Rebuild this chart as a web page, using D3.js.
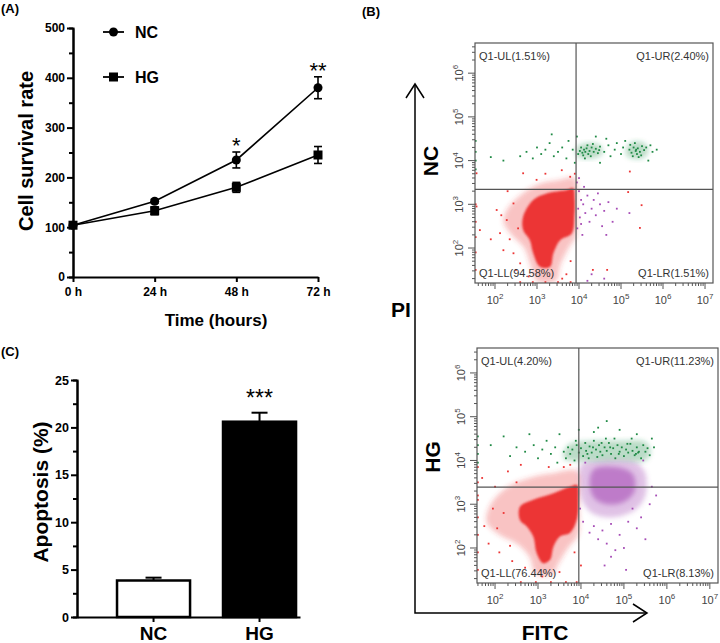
<!DOCTYPE html>
<html>
<head>
<meta charset="utf-8">
<script src="https://cdn.jsdelivr.net/npm/d3@7"></script>
<style>
  body { margin: 0; background: #fff; }
  svg { display: block; font-family: "Liberation Sans", Arial, sans-serif; }
</style>
</head>
<body>
<svg id="fig" width="720" height="643"></svg>
<script>
// ---------- data ----------
// (A) cell survival
const timeLabels = ["0 h", "24 h", "48 h", "72 h"];
const ncSurvival = [104, 152, 235, 380];
const ncSurvivalErr = [3, 4, 16, 22];
const hgSurvival = [104, 133, 180, 245];
const hgSurvivalErr = [3, 8, 10, 17];
const survivalStars = ["", "", "*", "**"];
const survivalTicks = [0, 100, 200, 300, 400, 500];
const survivalMinor = [50, 150, 250, 350, 450];

// (C) apoptosis
const groups = ["NC", "HG"];
const apoptosis = [3.85, 20.6];
const apoptosisErr = [0.3, 0.95];
const apoptosisStars = ["", "***"];
const apoptosisTicks = [0, 5, 10, 15, 20, 25];
const apoptosisMinor = [2.5, 7.5, 12.5, 17.5, 22.5];

// (B) flow cytometry, values as log10(FITC), log10(PI)
const flowDecades = [2, 3, 4, 5, 6, 7];
const ncQuadrants = ["Q1-UL(1.51%)", "Q1-UR(2.40%)", "Q1-LL(94.58%)", "Q1-LR(1.51%)"];
const hgQuadrants = ["Q1-UL(4.20%)", "Q1-UR(11.23%)", "Q1-LL(76.44%)", "Q1-LR(8.13%)"];
const ncGate = [3.93, 3.34];
const hgGate = [3.95, 3.39];

const ncRedHalo = [[2.3,2.9],[2.6,3.2],[3.0,3.45],[3.5,3.55],[3.9,3.6],[3.93,3.0],[3.93,2.3],[3.75,2.0],[3.55,1.6],[3.45,1.25],[3.0,1.25],[2.85,1.6],[2.7,2.0],[2.4,2.3],[2.2,2.6]];
const ncRedCore = [[2.67,2.72],[2.91,3.10],[3.23,3.25],[3.71,3.33],[3.86,3.37],[3.90,3.10],[3.89,2.72],[3.83,2.34],[3.55,2.18],[3.39,1.88],[3.31,1.57],[3.07,1.57],[2.91,1.88],[2.83,2.18],[2.67,2.41]];
const ncRedDots = [[1.56,3.71],[2.67,3.71],[2.99,3.56],[3.59,3.78],[3.79,3.63],[1.56,2.95],[1.64,2.41],[2.04,2.87],[2.12,2.34],[2.2,1.95],[2.44,1.88],[2.6,1.65],[2.28,2.64],[2.44,3.02],[5.17,3.28],[5.49,2.98],[5.45,2.46],[5.21,3.75],[2.35,2.2],[2.55,2.45],[2.15,2.75],[2.5,1.5],[3.7,1.4],[3.8,1.7],[3.6,1.3],[2.8,1.35],[1.9,2.2],[2.3,3.3],[3.2,3.7],[3.9,3.7],[1.54,1.5],[1.54,1.9],[1.54,2.25],[1.54,2.6],[1.54,3.0],[2.6,1.22],[2.9,1.22],[3.2,1.22],[3.5,1.22],[3.8,1.22],[4.33,1.5],[4.67,1.5]];
const ncGreenCore = [[3.95,4.1],[4.3,4.05],[4.55,4.15],[4.5,4.35],[4.2,4.4],[3.95,4.3]];
const ncGreenCore2 = [[5.15,4.1],[5.5,4.05],[5.65,4.2],[5.55,4.4],[5.25,4.42],[5.12,4.25]];
const ncGreenDots = [[4.02,4.22],[4.08,4.18],[4.12,4.25],[4.15,4.2],[4.18,4.28],[4.22,4.15],[4.25,4.22],[4.3,4.3],[4.05,4.3],[4.1,4.12],[4.2,4.35],[4.35,4.2],[4.4,4.27],[4.45,4.17],[4.5,4.32],[4.28,4.1],[3.98,4.15],[4.14,4.05],[4.33,4.38],[4.48,4.24],[5.2,4.25],[5.25,4.18],[5.3,4.3],[5.35,4.22],[5.38,4.15],[5.4,4.28],[5.45,4.2],[5.5,4.33],[5.42,4.08],[5.33,4.4],[5.55,4.24],[5.28,4.1],[5.48,4.12],[5.6,4.3],[5.22,4.36],[5.36,4.25],[2.6,4.1],[2.75,4.2],[2.9,4.05],[3.0,4.3],[3.1,4.15],[3.2,4.25],[3.3,4.4],[3.4,4.1],[3.5,4.2],[3.6,4.3],[3.7,4.05],[3.75,4.45],[3.85,4.25],[3.9,3.95],[3.35,4.6],[4.6,4.2],[4.7,4.35],[4.75,4.1],[4.85,4.25],[4.9,4.4],[5.0,4.15],[5.05,4.3],[5.1,4.45],[4.65,4.5],[3.95,4.55],[4.4,4.55],[5.75,4.2],[5.85,4.25],[5.7,4.35],[4.5,3.95],[5.65,4.0],[2.2,4.0],[1.9,4.08],[1.54,3.8],[1.54,4.0],[1.54,4.2],[1.54,4.45]];
const ncPurpleDots = [[3.95,3.5],[4.0,3.3],[4.05,3.1],[3.98,2.9],[4.02,2.7],[4.1,3.0],[4.15,2.8],[4.2,3.2],[4.25,2.6],[4.3,2.9],[4.35,3.1],[4.4,2.75],[4.5,3.0],[4.55,2.5],[4.6,2.85],[4.7,3.05],[4.8,2.6],[3.96,2.45],[4.05,2.55],[4.12,3.4],[4.45,3.25],[4.9,2.9],[4.65,2.3],[4.0,3.6],[4.08,2.3],[5.2,2.8],[4.3,1.4],[4.6,1.3],[4.2,1.25]];

const hgRedHalo = [[1.9,3.0],[2.3,3.4],[2.8,3.6],[3.3,3.7],[3.93,3.75],[3.95,3.0],[3.93,2.3],[3.7,2.0],[3.45,1.6],[3.35,1.4],[2.95,1.4],[2.8,1.8],[2.5,2.1],[2.1,2.3],[1.8,2.6]];
const hgRedCore = [[2.58,2.94],[2.89,3.10],[3.36,3.25],[3.74,3.40],[3.91,3.44],[3.94,3.10],[3.90,2.64],[3.74,2.34],[3.51,2.26],[3.36,2.03],[3.28,1.73],[3.12,1.65],[2.97,1.88],[2.89,2.26],[2.74,2.49],[2.58,2.64]];
const hgRedDots = [[1.6,3.2],[1.75,2.5],[1.85,2.1],[2.0,3.4],[2.1,1.9],[2.3,3.75],[2.4,1.7],[2.6,3.9],[2.7,1.55],[3.1,1.35],[3.5,1.45],[3.6,3.85],[3.85,1.9],[2.2,2.8],[1.95,2.9],[2.5,3.5],[1.7,3.6],[2.05,2.45],[2.35,2.05],[3.75,3.9],[3.25,3.85],[1.6,1.5],[1.6,1.9],[1.6,2.3],[1.6,2.7],[1.6,3.1],[1.6,3.5],[1.6,3.85],[2.6,1.22],[2.95,1.22],[3.3,1.22],[3.65,1.22],[3.9,1.22],[4.0,1.6]];
const hgGreenCore = [[3.6,4.05],[4.2,3.98],[4.9,4.0],[5.5,4.0],[5.62,4.2],[5.5,4.42],[4.9,4.45],[4.3,4.45],[3.7,4.35]];
const hgGreenDots = [[3.6,4.2],[3.65,4.05],[3.7,4.3],[3.75,4.15],[3.8,4.25],[3.85,4.0],[3.9,4.35],[3.95,4.18],[4.0,4.28],[4.05,4.1],[4.1,4.4],[4.12,4.22],[4.18,4.05],[4.2,4.32],[4.25,4.18],[4.3,4.45],[4.35,4.25],[4.38,4.08],[4.42,4.35],[4.45,4.2],[4.5,4.12],[4.55,4.3],[4.6,4.22],[4.65,4.4],[4.7,4.15],[4.75,4.28],[4.8,4.05],[4.85,4.35],[4.9,4.2],[4.95,4.3],[5.0,4.1],[5.05,4.25],[5.1,4.18],[5.15,4.38],[5.2,4.22],[5.25,4.12],[5.3,4.3],[5.35,4.2],[5.4,4.05],[5.45,4.35],[5.5,4.2],[5.55,4.28],[5.6,4.12],[5.28,4.15],[5.33,4.18],[4.15,4.15],[4.28,4.3],[4.48,4.4],[4.68,4.3],[4.88,4.15],[5.08,4.38],[3.88,4.45],[4.58,4.5],[4.78,4.5],[5.18,4.5],[2.35,4.1],[2.5,4.3],[2.7,4.2],[2.9,4.35],[3.0,4.05],[3.1,4.25],[3.2,4.45],[3.3,4.15],[3.4,4.3],[3.5,4.6],[2.8,4.6],[3.45,3.95],[4.4,4.75],[4.6,4.9],[4.9,4.7],[5.3,4.6],[5.65,4.5],[5.7,4.3],[4.3,4.65],[3.95,4.7],[1.9,4.35],[2.2,4.55],[1.6,3.95],[1.6,4.15],[1.6,4.35],[1.6,4.55]];
const hgPurpleHalo = [[4.0,3.9],[4.4,4.0],[4.9,4.02],[5.3,3.95],[5.5,3.7],[5.5,3.2],[5.3,2.9],[5.0,2.75],[4.6,2.7],[4.25,2.8],[4.02,3.1],[3.98,3.5]];
const hgPurpleCore = [[4.3,3.8],[4.8,3.85],[5.2,3.7],[5.25,3.3],[5.0,3.05],[4.6,3.0],[4.3,3.15],[4.2,3.5]];
const hgPurpleDots = [[4.3,2.5],[4.5,2.4],[4.7,2.55],[4.9,2.3],[5.1,2.6],[5.3,2.45],[4.6,2.1],[4.8,1.95],[5.5,2.2],[5.6,3.0],[5.65,3.4],[3.98,2.9],[4.05,2.6],[4.4,2.2],[5.0,2.0],[4.7,1.8],[4.2,2.35],[5.2,2.9],[5.4,2.7],[5.75,3.2],[4.1,3.95],[5.45,4.0],[4.55,1.6],[5.05,1.5]];

// ---------- setup ----------
const svg = d3.select("#fig");
const FONT = '"Liberation Sans", Arial, sans-serif';

// soft edges for the density clouds
const defs = svg.append("defs");
[["soft", 2.5], ["softer", 1]].forEach(([id, s]) =>
  defs.append("filter").attr("id", id).attr("x", "-20%").attr("y", "-20%")
    .attr("width", "140%").attr("height", "140%")
    .append("feGaussianBlur").attr("stdDeviation", s));

const styleAxis = (g, size) => {
  g.attr("font-family", FONT).attr("font-size", size).attr("font-weight", "bold");
  g.selectAll("path, line").attr("stroke", "#000").attr("stroke-width", 2);
  g.selectAll("text").attr("fill", "#000");
};

const panelTag = (x, y, t) =>
  svg.append("text").attr("x", x).attr("y", y).attr("font-size", 13)
    .attr("font-weight", "bold").text(t);

panelTag(1, 13, "(A)");
panelTag(362, 16, "(B)");
panelTag(1, 356, "(C)");

// ---------- (A) line chart ----------
const xA = d3.scalePoint().domain(timeLabels).range([73, 318]);
const yA = d3.scaleLinear().domain([0, 500]).range([277, 28]);
const gA = svg.append("g");

gA.append("g").attr("transform", "translate(73,0)")
  .call(d3.axisLeft(yA).tickValues(survivalMinor).tickSize(4).tickFormat(""))
  .call(g => styleAxis(g, 12));
gA.append("g").attr("transform", "translate(73,0)")
  .call(d3.axisLeft(yA).tickValues(survivalTicks).tickSize(6).tickSizeOuter(0).tickPadding(2))
  .call(g => styleAxis(g, 12));
gA.append("g").attr("transform", "translate(0,277)")
  .call(d3.axisBottom(xA).tickSize(5).tickSizeOuter(0).tickPadding(5))
  .call(g => styleAxis(g, 12));

gA.append("text").attr("x", 216).attr("y", 326).attr("text-anchor", "middle")
  .attr("font-size", 17).attr("font-weight", "bold").text("Time (hours)");
gA.append("text").attr("transform", "translate(33,151) rotate(-90)").attr("text-anchor", "middle")
  .attr("font-size", 20).attr("font-weight", "bold").text("Cell survival rate");

const lineA = d3.line().x((d, i) => xA(timeLabels[i])).y(d => yA(d));

const drawSeries = (vals, errs, shape) => {
  const g = gA.append("g");
  g.append("path").attr("d", lineA(vals)).attr("fill", "none")
    .attr("stroke", "#000").attr("stroke-width", 1.6);
  vals.forEach((v, i) => {
    const x = xA(timeLabels[i]);
    const e = g.append("g").attr("stroke", "#000").attr("stroke-width", 1.6);
    e.append("line").attr("x1", x).attr("x2", x).attr("y1", yA(v - errs[i])).attr("y2", yA(v + errs[i]));
    [v - errs[i], v + errs[i]].forEach(c =>
      e.append("line").attr("x1", x - 4).attr("x2", x + 4).attr("y1", yA(c)).attr("y2", yA(c)));
    if (shape === "circle") g.append("circle").attr("cx", x).attr("cy", yA(v)).attr("r", 4.5);
    else g.append("rect").attr("x", x - 4.5).attr("y", yA(v) - 4.5).attr("width", 9).attr("height", 9);
  });
};
drawSeries(hgSurvival, hgSurvivalErr, "square");
drawSeries(ncSurvival, ncSurvivalErr, "circle");

survivalStars.forEach((s, i) => {
  if (!s) return;
  gA.append("text").attr("x", xA(timeLabels[i])).attr("y", yA(ncSurvival[i] + ncSurvivalErr[i]) + 1)
    .attr("text-anchor", "middle").attr("font-size", 22).text(s);
});

// legend
[["NC", "circle", 32], ["HG", "square", 77]].forEach(([name, shape, y]) => {
  gA.append("line").attr("x1", 103).attr("x2", 124).attr("y1", y).attr("y2", y)
    .attr("stroke", "#000").attr("stroke-width", 1.8);
  if (shape === "circle") gA.append("circle").attr("cx", 113.5).attr("cy", y).attr("r", 4.5);
  else gA.append("rect").attr("x", 109).attr("y", y - 4.5).attr("width", 9).attr("height", 9);
  gA.append("text").attr("x", 135).attr("y", y + 6).attr("font-size", 16)
    .attr("font-weight", "bold").text(name);
});

// ---------- (C) bar chart ----------
const xC = d3.scaleBand().domain(groups).range([77, 300])
  .paddingInner(0.311).paddingOuter(0.2075).align(0.91);
const yC = d3.scaleLinear().domain([0, 25]).range([617, 380]);
const gC = svg.append("g");

groups.forEach((k, i) => {
  const x = xC(k), w = xC.bandwidth();
  const cx = x + w / 2;
  gC.append("line").attr("x1", cx).attr("x2", cx)
    .attr("y1", yC(apoptosis[i])).attr("y2", yC(apoptosis[i] + apoptosisErr[i]))
    .attr("stroke", "#000").attr("stroke-width", 2);
  gC.append("line").attr("x1", cx - 8).attr("x2", cx + 8)
    .attr("y1", yC(apoptosis[i] + apoptosisErr[i])).attr("y2", yC(apoptosis[i] + apoptosisErr[i]))
    .attr("stroke", "#000").attr("stroke-width", 2);
  gC.append("rect").attr("x", x).attr("y", yC(apoptosis[i]))
    .attr("width", w).attr("height", yC(0) - yC(apoptosis[i]))
    .attr("fill", i === 0 ? "#fff" : "#000").attr("stroke", "#000").attr("stroke-width", 2.5);
  if (apoptosisStars[i])
    gC.append("text").attr("x", cx).attr("y", yC(apoptosis[i] + apoptosisErr[i]) - 7)
      .attr("text-anchor", "middle").attr("font-size", 23).text(apoptosisStars[i]);
});

gC.append("g").attr("transform", "translate(77,0)")
  .call(d3.axisLeft(yC).tickValues(apoptosisMinor).tickSize(4).tickFormat(""))
  .call(g => styleAxis(g, 12.5));
gC.append("g").attr("transform", "translate(77,0)")
  .call(d3.axisLeft(yC).tickValues(apoptosisTicks).tickSize(6).tickSizeOuter(0).tickPadding(2))
  .call(g => styleAxis(g, 12.5));
gC.append("g").attr("transform", "translate(0,617)")
  .call(d3.axisBottom(xC).tickSize(5).tickSizeOuter(0).tickPadding(5))
  .call(g => styleAxis(g, 19));

gC.append("text").attr("transform", "translate(48,492) rotate(-90)").attr("text-anchor", "middle")
  .attr("font-size", 21).attr("font-weight", "bold").text("Apoptosis (%)");

// ---------- (B) flow cytometry ----------
const RED = "#ec3434", GREEN = "#1f8a45", PURPLE = "#a64cb6";
let clipId = 0;

function flowPlot(o) {
  const g = svg.append("g");
  const x = d3.scaleLog().domain([10 ** o.lx[0], 10 ** o.lx[1]]).range([o.x0, o.x0 + o.w]);
  const y = d3.scaleLog().domain([10 ** o.ly[0], 10 ** o.ly[1]]).range([o.y0 + o.h, o.y0]);
  const px = d => x(10 ** d[0]), py = d => y(10 ** d[1]);
  const blob = d3.line().x(px).y(py).curve(d3.curveCatmullRomClosed.alpha(0.5));

  const id = "clip" + (clipId++);
  g.append("clipPath").attr("id", id).append("rect")
    .attr("x", o.x0).attr("y", o.y0).attr("width", o.w).attr("height", o.h);
  const data = g.append("g").attr("clip-path", `url(#${id})`);

  (o.blobs || []).forEach(b =>
    data.append("path").attr("d", blob(b.pts)).attr("fill", b.color)
      .attr("fill-opacity", b.op).attr("filter", `url(#${b.blur})`));
  (o.dots || []).forEach(s =>
    data.append("g").selectAll("rect").data(s.pts).join("rect")
      .attr("x", d => px(d) - 0.9).attr("y", d => py(d) - 0.9)
      .attr("width", 1.8).attr("height", 1.8).attr("fill", s.color));

  // minor and major ticks
  const minor = [];
  for (let k = 1; k <= 7; k++) for (let m = 2; m <= 9; m++) minor.push(m * 10 ** k);
  const major = flowDecades.map(e => 10 ** e);
  const inX = v => v >= x.domain()[0] && v <= x.domain()[1];
  const inY = v => v >= y.domain()[0] && v <= y.domain()[1];
  const ax = g.append("g").attr("stroke", "#555").attr("stroke-width", 1);
  minor.filter(inX).forEach(v => ax.append("line").attr("x1", x(v)).attr("x2", x(v))
    .attr("y1", o.y0 + o.h).attr("y2", o.y0 + o.h + 3));
  major.filter(inX).forEach(v => ax.append("line").attr("x1", x(v)).attr("x2", x(v))
    .attr("y1", o.y0 + o.h).attr("y2", o.y0 + o.h + 6));
  minor.filter(inY).forEach(v => ax.append("line").attr("y1", y(v)).attr("y2", y(v))
    .attr("x1", o.x0).attr("x2", o.x0 - 3));
  major.filter(inY).forEach(v => ax.append("line").attr("y1", y(v)).attr("y2", y(v))
    .attr("x1", o.x0).attr("x2", o.x0 - 7));

  // frame and gates
  g.append("rect").attr("x", o.x0).attr("y", o.y0).attr("width", o.w).attr("height", o.h)
    .attr("fill", "none").attr("stroke", "#555").attr("stroke-width", 1.2);
  g.append("line").attr("x1", px([o.gate[0], 0])).attr("x2", px([o.gate[0], 0]))
    .attr("y1", o.y0).attr("y2", o.y0 + o.h).attr("stroke", "#555").attr("stroke-width", 1.2);
  g.append("line").attr("y1", py([0, o.gate[1]])).attr("y2", py([0, o.gate[1]]))
    .attr("x1", o.x0).attr("x2", o.x0 + o.w).attr("stroke", "#555").attr("stroke-width", 1.2);

  // tick labels
  flowDecades.forEach(e => {
    const t = g.append("text").attr("x", x(10 ** e)).attr("y", o.y0 + o.h + 21)
      .attr("text-anchor", "middle").attr("font-size", 11).attr("fill", "#444");
    t.append("tspan").text("10");
    t.append("tspan").attr("dy", -5).attr("font-size", 8).text(e);
  });
  flowDecades.filter(e => inY(10 ** e)).forEach(e => {
    const cx = o.x0 - 12, cy = y(10 ** e);
    const t = g.append("text").attr("x", cx).attr("y", cy)
      .attr("transform", `rotate(-90,${cx},${cy})`)
      .attr("text-anchor", "middle").attr("font-size", 11).attr("fill", "#444");
    t.append("tspan").text("10");
    t.append("tspan").attr("dy", -5).attr("font-size", 8).text(e);
  });

  // quadrant labels
  const q = o.quads;
  const ql = (tx, ty, anchor, s) => g.append("text").attr("x", tx).attr("y", ty)
    .attr("text-anchor", anchor).attr("font-size", 11).attr("fill", "#333").text(s);
  ql(o.x0 + 4, o.y0 + 17, "start", q[0]);
  ql(o.x0 + o.w - 4, o.y0 + 17, "end", q[1]);
  ql(o.x0 + 4, o.y0 + o.h - 6, "start", q[2]);
  ql(o.x0 + o.w - 4, o.y0 + o.h - 6, "end", q[3]);
}

flowPlot({
  x0: 475, y0: 43, w: 238, h: 240, lx: [1.524, 7.19], ly: [1.2, 6.69],
  gate: ncGate, quads: ncQuadrants,
  blobs: [
    { pts: ncRedHalo, color: RED, op: 0.3, blur: "soft" },
    { pts: ncRedCore, color: RED, op: 1, blur: "softer" },
    { pts: ncGreenCore, color: GREEN, op: 0.3, blur: "soft" },
    { pts: ncGreenCore2, color: GREEN, op: 0.3, blur: "soft" }
  ],
  dots: [
    { pts: ncRedDots, color: RED },
    { pts: ncPurpleDots, color: PURPLE },
    { pts: ncGreenDots, color: GREEN }
  ]
});

flowPlot({
  x0: 477, y0: 348, w: 241, h: 235, lx: [1.58, 7.19], ly: [1.2, 6.57],
  gate: hgGate, quads: hgQuadrants,
  blobs: [
    { pts: hgRedHalo, color: RED, op: 0.3, blur: "soft" },
    { pts: hgRedCore, color: RED, op: 1, blur: "softer" },
    { pts: hgPurpleHalo, color: PURPLE, op: 0.35, blur: "soft" },
    { pts: hgPurpleCore, color: PURPLE, op: 0.6, blur: "soft" },
    { pts: hgGreenCore, color: GREEN, op: 0.3, blur: "soft" }
  ],
  dots: [
    { pts: hgRedDots, color: RED },
    { pts: hgPurpleDots, color: PURPLE },
    { pts: hgGreenDots, color: GREEN }
  ]
});

// big PI / FITC arrows
const arrows = svg.append("g").attr("stroke", "#000").attr("stroke-width", 1.5).attr("fill", "none");
arrows.append("polyline").attr("points", "415,84 415,613 647,613");
arrows.append("polyline").attr("points", "406,98 415,84 424,98");
arrows.append("polyline").attr("points", "633,604 647,613 633,622");

const bigLabel = (x, y, t, rot) => svg.append("text").attr("x", x).attr("y", y)
  .attr("transform", rot ? `rotate(-90,${x},${y})` : null)
  .attr("text-anchor", "middle").attr("font-size", 21).attr("font-weight", "bold").text(t);
bigLabel(401, 317, "PI");
bigLabel(545, 640, "FITC");
bigLabel(438, 161, "NC", true);
bigLabel(440, 457, "HG", true);
</script>
</body>
</html>
